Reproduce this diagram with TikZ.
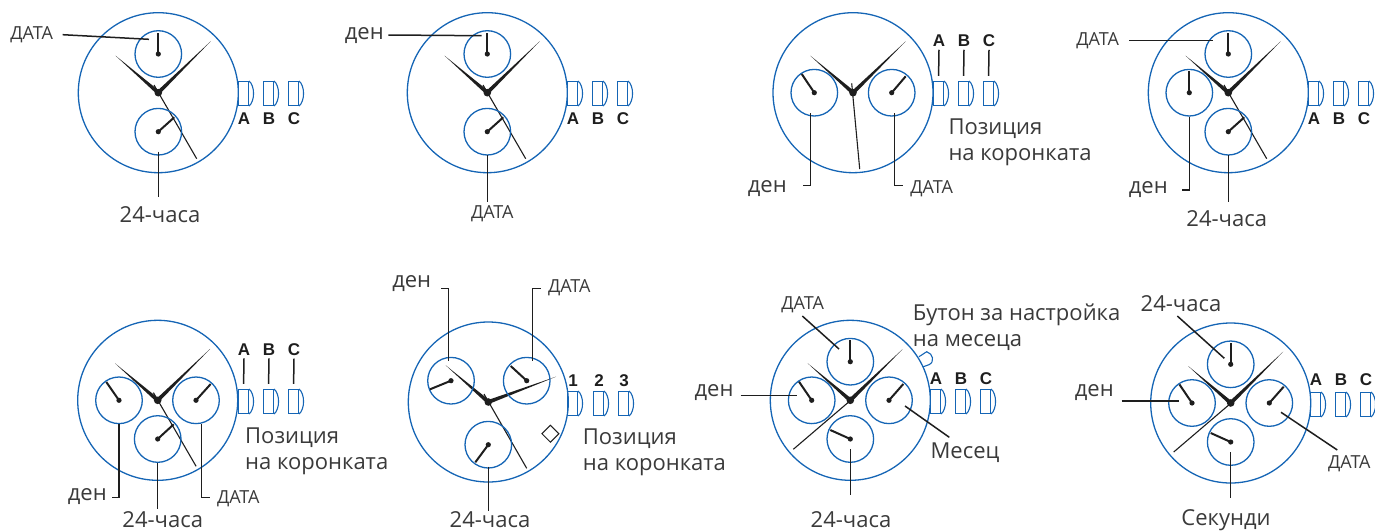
\documentclass[tikz,border=0pt]{standalone}
\usepackage{fontspec}
\setmainfont{Open Sans}
\setsansfont{Liberation Sans}
\usepackage{xcolor}
\usetikzlibrary{calc, positioning}

\definecolor{dialblue}{HTML}{1565B5}
\definecolor{ink}{HTML}{1E1E1E}
\definecolor{inktext}{HTML}{3A3A3A}

\tikzset{
	face/.style={circle, draw=dialblue, line width=1.3pt, minimum size=160pt, inner sep=0pt},
	sub/.style={circle, draw=dialblue, line width=1.3pt, minimum size=46.6pt, inner sep=0pt},
	subhand/.style={ink, line width=2pt},
	sechand/.style={ink, line width=1.1pt},
	lead/.style={ink, line width=1.5pt},
	crownbox/.style={rectangle, draw=dialblue, line width=1.1pt, minimum width=10pt, minimum height=24pt, inner sep=0pt},
	crownarc/.style={dialblue, line width=1.1pt},
	word/.style={text=inktext, inner sep=0pt, font=\fontsize{22}{26}\selectfont},
	small/.style={text=inktext, inner sep=0pt, font=\fontsize{18}{20}\selectfont},
	letter/.style={text=ink, inner sep=3pt, font=\fontsize{17}{18}\sffamily\bfseries}
}

\newcommand{\hand}[2]{\fill[ink] ($(#1)!2pt!90:(#2)$) -- (#2) -- ($(#1)!2pt!-90:(#2)$) -- cycle;}

\begin{document}
\begin{tikzpicture}[x=1pt, y=-1pt]
	\useasboundingbox (0,0) rectangle (1375,531);

	% dials and main hands
	\foreach \n/\x/\y/\lx/\ly/\rx/\ry/\tx/\ty/\sx/\sy in {
		w1/158.3/92.7/-42.7/-37/52.4/-51.4/-4.3/-7.7/38.4/66,
		w2/487.3/92.7/-42.7/-37/52.4/-51.4/-4.3/-7.7/38.4/66,
		w3/853/92.7/-42.7/-37/52.7/-51.4/-1.3/-9.4/6.7/76.3,
		w4/1228.3/92.7/-42.7/-37/52.4/-51.4/-4.3/-7.7/38.4/66,
		w5/157.7/400.3/-42.7/-37/52.4/-51.4/-4.3/-7.7/38.4/66,
		w6/488.3/402/-42.6/-36.7/67.7/-25.3/-4.3/-8/38.4/66.3,
		w7/850.3/400.3/-42.6/-37/52.4/-51.3/4.7/-3.7/-57/49,
		w8/1230.7/403/-42.6/-37/52.4/-51.3/4.7/-3.7/-57/49} {
		\node[face] (\n) at (\x,\y) {};
		\coordinate (\n l) at (\x+\lx,\y+\ly);
		\coordinate (\n r) at (\x+\rx,\y+\ry);
		\coordinate (\n t) at (\x+\tx,\y+\ty);
		\coordinate (\n s) at (\x+\sx,\y+\sy);
		\hand{\n.center}{\n l}
		\hand{\n.center}{\n r}
		\draw[sechand] (\n t) -- (\n s);
		\fill[ink] (\n) circle (3.8pt);
	}

	% small dials
	\foreach \n/\x/\y/\tx/\ty in {
		w1a/158.3/54/158.3/32.7, w1b/158.3/131.7/174.3/117.3,
		w2a/487.3/54/487.3/32.7, w2b/487.3/131.7/503.3/117.3,
		w3a/814.3/92.7/801.7/74, w3b/891.7/92.7/905.7/76.3,
		w4a/1228.3/54/1228.3/32.7, w4b/1189.3/92.7/1189.3/71.3, w4c/1228.3/131.7/1244.3/117.3,
		w5a/119/400.3/106.3/382, w5b/196/400.3/210.7/384, w5c/157.7/439/173.7/424.3,
		w6a/451/380.7/430/389.3, w6b/526.7/380.7/510.7/366, w6c/488.3/444.7/475.3/462.3,
		w7a/850.3/361.7/850.3/340, w7b/811.7/400.3/799/381.7, w7c/889/400.3/903.3/384, w7d/850.3/439/830.3/430,
		w8a/1230.7/364.3/1230.7/342.6, w8b/1192/403/1179.4/384.4, w8c/1269.3/403/1283.7/386.7, w8d/1230.7/442/1210.7/433} {
		\node[sub] (\n) at (\x,\y) {};
		\coordinate (\n tip) at (\tx,\ty);
		\draw[subhand] (\n.center) -- (\n tip);
		\fill[ink] (\n) circle (2.6pt);
	}

	% crowns
	\foreach \n/\xa/\xb/\xc/\yc/\yl/\la/\lb/\lc in {
		w1/238.5/263.5/288.5/93.5/118.3/A/B/C,
		w2/567.5/592.5/617.5/93.5/118.3/A/B/C,
		w3/933.5/958.5/983.5/93.5/40.7/A/B/C,
		w4/1308.5/1333.5/1358.5/93.5/118.3/A/B/C,
		w5/238.5/263.5/288.5/401.5/349.3/A/B/C,
		w6/567.5/593.5/618.5/403.5/380.7/1/2/3,
		w7/930.5/955.5/980.5/401.5/379/A/B/C,
		w8/1310.5/1335.5/1360.5/404.5/380/A/B/C} {
		\foreach \i/\px/\t in {a/\xa/\la, b/\xb/\lb, c/\xc/\lc} {
			\node[crownbox] (\n c\i) at (\px+5,\yc) {};
			\draw[crownarc] (\n c\i.north east) .. controls +(6,5) and +(6,-5) .. (\n c\i.south east);
			\node[letter] (\n l\i) at (\px+5.5,\yl) {\t};
		}
	}
	\foreach \n in {w3, w5} {
		\foreach \i in {a, b, c} {
			\draw[lead, shorten >=5pt] (\n l\i.south) -- (\n c\i.north);
		}
	}

	% month button and date window
	\draw[crownarc] (919,356.7) -- (926.7,351.7) .. controls (933,353.5) and (935,362) .. (929,364.7) -- (923.3,366.7);
	\node[draw=ink, line width=1pt, rotate=45, minimum size=12pt, inner sep=0pt] (w6win) at (550.4,433.7) {};

	% straight leaders
	\foreach \n/\ax/\ay/\bx/\by in {
		p1/62.7/34.7/149/39.3, p2/158.3/151.7/158.3/197.3,
		p3/388.3/35/481.7/35.7, p4/487.3/155/487.3/201.7,
		p5/1129.3/40.7/1213.3/40.7, p6/1228.3/155/1228.3/201.7,
		p7/157.7/462.7/157.7/509, p8/488.3/466.7/488.3/510.7,
		p9/802.3/316/839/349, p10/740.7/395.3/796.7/395.3, p11/905/406/949.3/437.3, p12/850.3/449.3/850.3/495,
		p13/1177.3/316/1224.3/358.3, p14/1121.7/401/1179.3/401, p15/1281/412.3/1337.3/450, p16/1230.7/452.3/1230.7/497.7} {
		\coordinate (\n a) at (\ax,\ay);
		\coordinate (\n b) at (\bx,\by);
		\draw[lead] (\n a) -- (\n b);
	}

	% bent leaders
	\foreach \n/\ax/\ay/\bx/\by/\cx in {
		q1/810.3/113.3/810.3/185.7/802.7, q2/894.3/113.3/894.3/185.7/902.7,
		q3/1189.3/116.7/1189.3/190/1181.7,
		q4/119/424.3/119/497.3/111.7, q5/201.3/424.3/201.3/497.3/210,
		q6/448.3/360.7/448.3/288.3/441, q7/532.7/360.7/532.7/288.3/540.7} {
		\coordinate (\n a) at (\ax,\ay);
		\coordinate (\n b) at (\bx,\by);
		\coordinate (\n c) at (\cx,\by);
		\draw[lead] (\n a) -- (\n b) -- (\n c);
	}

	% labels
	\node[small] (t1) at (31.7,34.3) {ДАТА};
	\node[word] (t2) at (160,214.5) {24-часа};
	\node[word] (t3) at (364.3,35.5) {ден};
	\node[small] (t4) at (492.3,213.3) {ДАТА};
	\node[word] (t5) at (767.3,188.5) {ден};
	\node[small] (t6) at (931.7,188.3) {ДАТА};
	\node[word, anchor=west, align=left] (t7) at (948.3,142.5) {Позиция\\на коронката};
	\node[small] (t8) at (1097.7,40.7) {ДАТА};
	\node[word] (t9) at (1148.3,189.5) {ден};
	\node[word] (t10) at (1226.7,218.8) {24-часа};
	\node[word] (t11) at (87.3,496.2) {ден};
	\node[word] (t12) at (162.7,520) {24-часа};
	\node[small] (t13) at (238.3,498.3) {ДАТА};
	\node[word, anchor=west, align=left] (t14) at (245,451) {Позиция\\на коронката};
	\node[word] (t15) at (411.7,283.2) {ден};
	\node[small] (t16) at (569.3,287.7) {ДАТА};
	\node[word] (t17) at (490,520) {24-часа};
	\node[word, anchor=west, align=left] (t18) at (582.7,452.5) {Позиция\\на коронката};
	\node[small] (t19) at (802.7,304.3) {ДАТА};
	\node[word, anchor=west, align=left] (t20) at (912.7,327) {Бутон за настройка\\на месеца};
	\node[word] (t21) at (714,392.8) {ден};
	\node[word] (t22) at (965,452.2) {Месец};
	\node[word] (t23) at (851,520) {24-часа};
	\node[word] (t24) at (1181,303.2) {24-часа};
	\node[word] (t25) at (1094.3,392.8) {ден};
	\node[small] (t26) at (1349.3,463.3) {ДАТА};
	\node[word] (t27) at (1226,520) {Секунди};
\end{tikzpicture}
\end{document}
